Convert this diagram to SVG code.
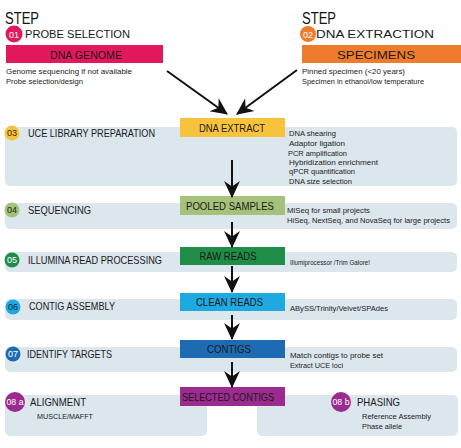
<svg xmlns="http://www.w3.org/2000/svg" width="461" height="448" viewBox="0 0 461 448">
<defs>
<marker id="ah" viewBox="0 0 16 16" refX="15" refY="8" markerWidth="17" markerHeight="17" markerUnits="userSpaceOnUse" orient="auto">
<path d="M0,0.5 L16,8 L0,15.5 L5,8 z" fill="#111"/>
</marker>
<style>
text{font-family:"Liberation Sans",Arial,sans-serif;}
.panel{fill:#dce6ed;}
.h{font-size:11.5px;fill:#1a1a1a;}
.d{font-size:8px;fill:#222;}
.b{font-size:11.5px;fill:#1a1a1a;text-anchor:middle;}
.n{font-size:9px;text-anchor:middle;}
.step{font-size:16px;fill:#111;}
.conn{stroke:#111;stroke-width:2;fill:none;marker-end:url(#ah);}
</style>
</defs>
<rect width="461" height="448" fill="#fff"/>

<g id="step01">
<text class="step" x="5" y="24" textLength="34" lengthAdjust="spacingAndGlyphs">STEP</text>
<circle cx="14" cy="34" r="8.5" fill="#e2185c"/>
<text class="n" x="14" y="37.5" fill="#fff" font-size="10">01</text>
<text class="h" x="25" y="38" font-size="12.5" textLength="105" lengthAdjust="spacingAndGlyphs">PROBE SELECTION</text>
</g>
<g id="dna-genome">
<rect x="6" y="45" width="157" height="18" fill="#e2185c"/>
<text class="b" x="86" y="58.5" font-size="12" fill="#3a0a18" textLength="72" lengthAdjust="spacingAndGlyphs">DNA GENOME</text>
<text class="d" x="6" y="74" textLength="126" lengthAdjust="spacingAndGlyphs">Genome sequencing if not available</text>
<text class="d" x="6" y="84" textLength="77" lengthAdjust="spacingAndGlyphs">Probe selection/design</text>
</g>

<g id="step02">
<text class="step" x="302" y="24" textLength="34" lengthAdjust="spacingAndGlyphs">STEP</text>
<circle cx="308" cy="34" r="8" fill="#ef7b2d"/>
<text class="n" x="308" y="37.5" fill="#fff" font-size="10">02</text>
<text class="h" x="316" y="38" font-size="12.5" textLength="118" lengthAdjust="spacingAndGlyphs">DNA EXTRACTION</text>
</g>
<g id="specimens">
<rect x="302" y="45" width="159" height="18" fill="#ef7b2d"/>
<text class="b" x="376" y="58.5" font-size="12" fill="#2a1406" textLength="78" lengthAdjust="spacingAndGlyphs">SPECIMENS</text>
<text class="d" x="302" y="74" textLength="103" lengthAdjust="spacingAndGlyphs">Pinned specimen (&lt;20 years)</text>
<text class="d" x="302" y="84" textLength="122" lengthAdjust="spacingAndGlyphs">Specimen in ethanol/low temperature</text>
</g>

<g id="step03">
<rect class="panel" x="5" y="127" width="452" height="59" rx="5"/>
<circle cx="12" cy="133" r="7.5" fill="#f8c33c"/>
<text class="n" x="12" y="136" fill="#3a2a00">03</text>
<text class="h" x="28" y="137" textLength="127" lengthAdjust="spacingAndGlyphs">UCE LIBRARY PREPARATION</text>
<text class="d" x="289" y="136" textLength="47" lengthAdjust="spacingAndGlyphs">DNA shearing</text>
<text class="d" x="289" y="146" textLength="56" lengthAdjust="spacingAndGlyphs">Adaptor ligation</text>
<text class="d" x="288" y="156" textLength="59" lengthAdjust="spacingAndGlyphs">PCR amplification</text>
<text class="d" x="289" y="164.5" textLength="89" lengthAdjust="spacingAndGlyphs">Hybridization enrichment</text>
<text class="d" x="289" y="174" textLength="66" lengthAdjust="spacingAndGlyphs">qPCR quantification</text>
<text class="d" x="289" y="183.5" textLength="63" lengthAdjust="spacingAndGlyphs">DNA size selection</text>
</g>
<g id="dna-extract">
<rect x="180" y="118" width="105" height="19" fill="#f8c33c"/>
<text class="b" x="232" y="132" textLength="66" lengthAdjust="spacingAndGlyphs">DNA EXTRACT</text>
</g>

<g id="step04">
<rect class="panel" x="5" y="203" width="452" height="26" rx="5"/>
<circle cx="12" cy="210" r="7.5" fill="#a6c17a"/>
<text class="n" x="12" y="213" fill="#1e2a10">04</text>
<text class="h" x="28" y="214" textLength="63" lengthAdjust="spacingAndGlyphs">SEQUENCING</text>
<text class="d" x="287" y="213" textLength="83" lengthAdjust="spacingAndGlyphs">MiSeq for small projects</text>
<text class="d" x="287" y="223" textLength="163" lengthAdjust="spacingAndGlyphs">HiSeq, NextSeq, and NovaSeq for large projects</text>
</g>
<g id="pooled-samples">
<rect x="180" y="196" width="105" height="19" fill="#a6c17a"/>
<text class="b" x="230" y="209.5" textLength="88" lengthAdjust="spacingAndGlyphs">POOLED SAMPLES</text>
</g>

<g id="step05">
<rect class="panel" x="5" y="252" width="452" height="20" rx="5"/>
<circle cx="12" cy="260" r="7.5" fill="#1f8d47"/>
<text class="n" x="12" y="263" fill="#fff">05</text>
<text class="h" x="28" y="264" textLength="134" lengthAdjust="spacingAndGlyphs">ILLUMINA READ PROCESSING</text>
<text class="d" x="290" y="265" textLength="80" lengthAdjust="spacingAndGlyphs">Illumiprocessor /Trim Galore!</text>
</g>
<g id="raw-reads">
<rect x="180" y="247" width="105" height="18" fill="#1f8d47"/>
<text class="b" x="228" y="260" textLength="57" lengthAdjust="spacingAndGlyphs">RAW READS</text>
</g>

<g id="step06">
<rect class="panel" x="5" y="299" width="452" height="21" rx="5"/>
<circle cx="13" cy="307" r="7.5" fill="#1ea9e1"/>
<text class="n" x="13" y="310" fill="#0b2a44">06</text>
<text class="h" x="29" y="309.5" textLength="86" lengthAdjust="spacingAndGlyphs">CONTIG ASSEMBLY</text>
<text class="d" x="290" y="310.5" textLength="98" lengthAdjust="spacingAndGlyphs">ABySS/Trinity/Velvet/SPAdes</text>
</g>
<g id="clean-reads">
<rect x="180" y="293" width="105" height="18" fill="#1ea9e1"/>
<text class="b" x="229.5" y="306" fill="#0f2a4a" textLength="67" lengthAdjust="spacingAndGlyphs">CLEAN READS</text>
</g>

<g id="step07">
<rect class="panel" x="5" y="347" width="452" height="25" rx="5"/>
<circle cx="13" cy="354" r="7.5" fill="#1d6cb3"/>
<text class="n" x="13" y="357" fill="#fff">07</text>
<text class="h" x="27" y="358" textLength="85" lengthAdjust="spacingAndGlyphs">IDENTIFY TARGETS</text>
<text class="d" x="290" y="358" textLength="93" lengthAdjust="spacingAndGlyphs">Match contigs to probe set</text>
<text class="d" x="290" y="367.5" textLength="53" lengthAdjust="spacingAndGlyphs">Extract UCE loci</text>
</g>
<g id="contigs">
<rect x="180" y="340" width="105" height="18" fill="#1d6cb3"/>
<text class="b" x="229" y="353" fill="#0d1e33" textLength="44" lengthAdjust="spacingAndGlyphs">CONTIGS</text>
</g>

<g id="step08a">
<rect class="panel" x="5" y="395" width="202" height="41" rx="5"/>
<circle cx="15" cy="402" r="10" fill="#9b2b8e"/>
<text class="n" x="15" y="405" fill="#fff" textLength="17" lengthAdjust="spacingAndGlyphs">08 a</text>
<text class="h" x="30" y="406" textLength="56" lengthAdjust="spacingAndGlyphs">ALIGNMENT</text>
<text class="d" x="37" y="419" textLength="56" lengthAdjust="spacingAndGlyphs">MUSCLE/MAFFT</text>
</g>
<g id="step08b">
<rect class="panel" x="257" y="395" width="201" height="41" rx="5"/>
<circle cx="341" cy="402" r="10" fill="#9b2b8e"/>
<text class="n" x="341" y="405" fill="#fff" textLength="17" lengthAdjust="spacingAndGlyphs">08 b</text>
<text class="h" x="357" y="406" textLength="43" lengthAdjust="spacingAndGlyphs">PHASING</text>
<text class="d" x="362" y="419" textLength="69" lengthAdjust="spacingAndGlyphs">Reference Assembly</text>
<text class="d" x="362" y="429" textLength="40" lengthAdjust="spacingAndGlyphs">Phase allele</text>
</g>
<g id="selected-contigs">
<rect x="180" y="387" width="105" height="19" fill="#9b2b8e"/>
<text class="b" x="228" y="400.5" fill="#fff" textLength="92" lengthAdjust="spacingAndGlyphs">SELECTED CONTIGS</text>
</g>

<g id="connectors">
<line class="conn" x1="167" y1="71" x2="227" y2="114"/>
<line class="conn" x1="297" y1="70" x2="237" y2="114"/>
<line class="conn" x1="232" y1="160" x2="232" y2="197"/>
<line class="conn" x1="232" y1="222" x2="232" y2="247"/>
<line class="conn" x1="232" y1="266" x2="232" y2="292"/>
<line class="conn" x1="232" y1="315" x2="232" y2="339"/>
<line class="conn" x1="232" y1="362" x2="232" y2="387"/>
</g>
</svg>
